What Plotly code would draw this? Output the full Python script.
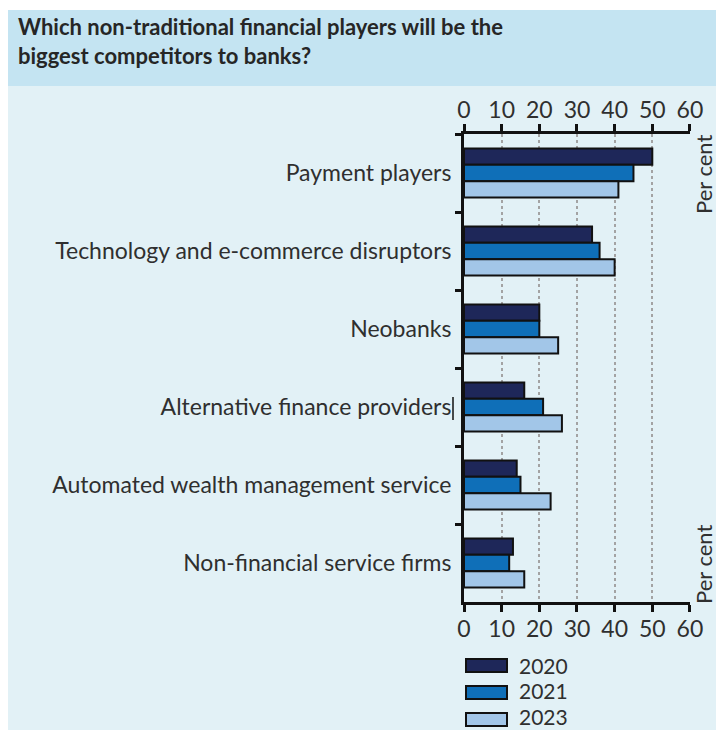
import plotly.graph_objects as go

# Data
categories = [
    "Payment players",
    "Technology and e-commerce disruptors",
    "Neobanks",
    "Alternative finance providers",
    "Automated wealth management service",
    "Non-financial service firms",
]
years = ["2020", "2021", "2023"]
values_2020 = [50, 34, 20, 16, 14, 13]
values_2021 = [45, 36, 20, 21, 15, 12]
values_2023 = [41, 40, 25, 26, 23, 16]
x_ticks = [0, 10, 20, 30, 40, 50, 60]

series = [values_2020, values_2021, values_2023]
colors = ["#1e2759", "#0f6fb8", "#a2c6e8"]

W, H = 716, 730
L, R, T, B = 464, 690, 134, 602
FONT = "Lato"
TXT = "#2f2f2f"


def px(x):
    return (x - L) / (R - L)


def py(y):
    return (B - y) / (B - T)


fig = go.Figure()
for name, vals, col in zip(years, series, colors):
    fig.add_trace(go.Bar(
        y=categories, x=vals, name=name, orientation="h",
        marker=dict(color=col, line=dict(color="#111111", width=2)),
        showlegend=False, hoverinfo="x+name",
    ))

# invisible trace so the top axis is rendered
fig.add_trace(go.Scatter(x=[0, 60], y=[categories[0]] * 2, xaxis="x2",
                         mode="markers", marker=dict(opacity=0),
                         showlegend=False, hoverinfo="skip"))

axis_common = dict(
    range=[0, 60.01], tickvals=x_ticks, ticks="outside", ticklen=7,
    tickwidth=3, tickcolor="#111111", showline=True, linecolor="#111111",
    linewidth=3, tickfont=dict(family=FONT, size=23, color=TXT),
    zeroline=False, fixedrange=True, ticklabelstandoff=-3,
)

fig.update_layout(
    width=W, height=H,
    margin=dict(l=L, r=W - R, t=T, b=H - B, pad=0),
    paper_bgcolor="#e2f1f6",
    plot_bgcolor="rgba(0,0,0,0)",
    barmode="group", bargap=0.37, bargroupgap=0,
    xaxis=dict(**axis_common, side="bottom", showgrid=True,
               gridcolor="#a3a3a3", gridwidth=2, griddash="dot"),
    xaxis2=dict(**axis_common, side="top", overlaying="x", matches="x",
                showgrid=False),
    yaxis=dict(type="category", autorange="reversed", showline=True,
               linecolor="#111111", linewidth=3, ticks="outside",
               tickson="boundaries", ticklen=6, tickwidth=3,
               tickcolor="#111111", showgrid=False, ticklabelstandoff=5,
               tickfont=dict(family=FONT, size=23, color=TXT)),
    font=dict(family=FONT, color=TXT),
)

shapes = [
    # white outer margin (left and top)
    dict(type="rect", xref="paper", yref="paper", x0=px(0), x1=px(8),
         y0=py(H), y1=py(0), fillcolor="white", line_width=0, layer="below"),
    dict(type="rect", xref="paper", yref="paper", x0=px(0), x1=px(W),
         y0=py(10), y1=py(0), fillcolor="white", line_width=0, layer="below"),
    # title band
    dict(type="rect", xref="paper", yref="paper", x0=px(8), x1=px(W),
         y0=py(86), y1=py(10), fillcolor="#c4e4f2", line_width=0, layer="below"),
    # stray text-cursor mark beside a label
    dict(type="line", xref="paper", yref="paper", x0=px(453), x1=px(453),
         y0=py(420), y1=py(397), line=dict(color="#111111", width=1.5)),
]

annotations = [
    dict(text="<b>Which non-traditional financial players will be the<br>"
              "biggest competitors to banks?</b>",
         xref="paper", yref="paper", x=px(16), y=py(11), xanchor="left",
         yanchor="top", align="left", showarrow=False,
         font=dict(family=FONT, size=22, color="#262626")),
]

for yc in (175, 565):
    annotations.append(dict(text="Per cent", textangle=-90, xref="paper",
                            yref="paper", x=px(703), y=py(yc),
                            xanchor="center", yanchor="middle",
                            showarrow=False,
                            font=dict(family=FONT, size=22, color=TXT)))

# legend drawn as wide swatches
for i, (name, col) in enumerate(zip(years, colors)):
    top = 659 + 27 * i
    shapes.append(dict(type="rect", xref="paper", yref="paper",
                       x0=px(466), x1=px(507), y0=py(top + 13), y1=py(top),
                       fillcolor=col, line=dict(color="#111111", width=2)))
    annotations.append(dict(text=name, xref="paper", yref="paper",
                            x=px(517), y=py(665 + 25.5 * i), xanchor="left",
                            yanchor="middle", showarrow=False,
                            font=dict(family=FONT, size=21, color=TXT)))

fig.update_layout(shapes=shapes, annotations=annotations)
fig.write_html("out.html")
